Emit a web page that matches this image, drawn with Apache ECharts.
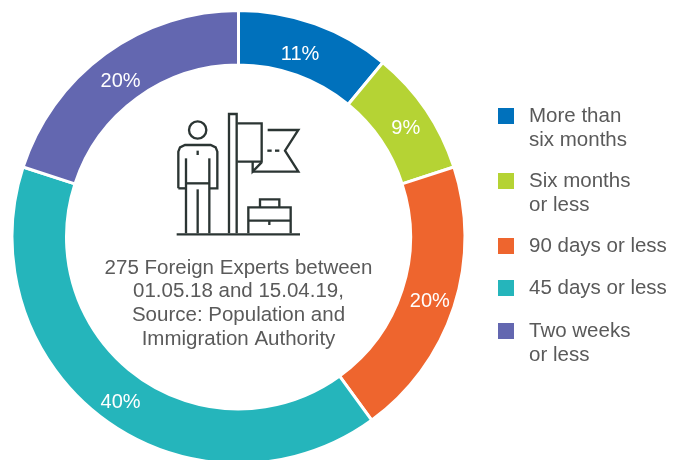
<!DOCTYPE html>
<html><head><meta charset="utf-8">
<style>html,body{margin:0;padding:0;background:#fff}#c{width:686px;height:460px}</style>
<script src="https://cdn.jsdelivr.net/npm/echarts@6/dist/echarts.min.js"></script>
</head><body><div id="c"></div>
<script>
const categories = ["More than\nsix months","Six months\nor less","90 days or less","45 days or less","Two weeks\nor less"];
const values = [11,9,20,40,20];
const colors = ["#0071BC","#B5D334","#EE652E","#25B5BB","#6367B0"];
const legendTops = [104,169,234,276,319];
const labelOffsets = [[-7,8],[0,5],[-1,2],[1,2],[1,8]];
const centerText = "275 Foreign Experts between\n01.05.18 and 15.04.19,\nSource: Population and\nImmigration Authority";
const FONT = "Liberation Sans";
const TEXT = "#5a5a5a";
const iconLines = [
 [[55,265],[55,155],[60,142],[75,135],[152,135],[167,142],[172,155],[172,265],[148,265]],
 [[55,265],[78,265]],
 [[78,175],[78,400]],[[148,175],[148,400]],[[78,250],[148,250]],[[113,268],[113,400]],[[113,152],[113,165]],
 [[50,403],[420,403]],
 [[207,400],[207,42],[230,42],[230,400]],
 [[232,70],[305,70],[305,185],[232,185]],
 [[278,185],[278,215],[305,187]],
 [[323,90],[415,90],[375,152],[415,215],[278,215]],
 [[322,152],[335,152]],[[345,152],[358,152]],
 [[265,400],[265,322],[392,322],[392,400]],[[265,362],[392,362]],
 [[300,322],[300,298],[358,298],[358,322]],[[328,362],[328,375]]
];
const SWATCH = 'M0 4H16V20H0Z';
const chart = echarts.init(document.getElementById('c'));
chart.setOption({
  animation:false,
  backgroundColor:'#fff',
  legend: categories.map((name,i)=>{
    const two = name.includes("\n");
    return {
      left:498, top:legendTops[i], orient:'vertical', padding:0, selectedMode:false,
      itemWidth:16, itemHeight: two?48:24, itemGap:0,
      itemStyle:{borderWidth:0},
      data:[{name, icon: 'path://'+SWATCH+' M0 0L0.01 0L0 0.01Z M0 '+(two?48:24)+'L0.01 '+(two?48:24)+'L0 '+(two?47.99:23.99)+'Z'}],
      textStyle:{fontFamily:FONT,fontSize:20.5,color:TEXT,lineHeight:24,padding:[0,0,0,10]}
    };
  }),
  series:[{
    type:'pie', center:[238.5,237], radius:[172,226.5], startAngle:90, clockwise:true, silent:true,
    data:categories.map((name,i)=>({name,value:values[i],itemStyle:{color:colors[i]},
      label:{offset:labelOffsets[i]}})),
    itemStyle:{borderColor:'#fff',borderWidth:3},
    label:{show:true,position:'inside',formatter:'{c}%',color:'#fff',fontFamily:FONT,fontSize:20},
    labelLine:{show:false}
  }],
  graphic:[
    {type:'text',style:{x:238.5,y:256,text:centerText,textAlign:'center',fontFamily:FONT,fontSize:20.5,lineHeight:23.7,fill:TEXT}},
    {type:'group',x:160,y:100,scaleX:1/3,scaleY:1/3,children:[
      {type:'circle',shape:{cx:113,cy:90,r:26},style:{fill:'none',stroke:'#2B3533',lineWidth:7}},
      ...iconLines.map(points=>({type:'polyline',shape:{points},style:{fill:'none',stroke:'#2B3533',lineWidth:7}}))
    ]}
  ]
});
</script></body></html>
